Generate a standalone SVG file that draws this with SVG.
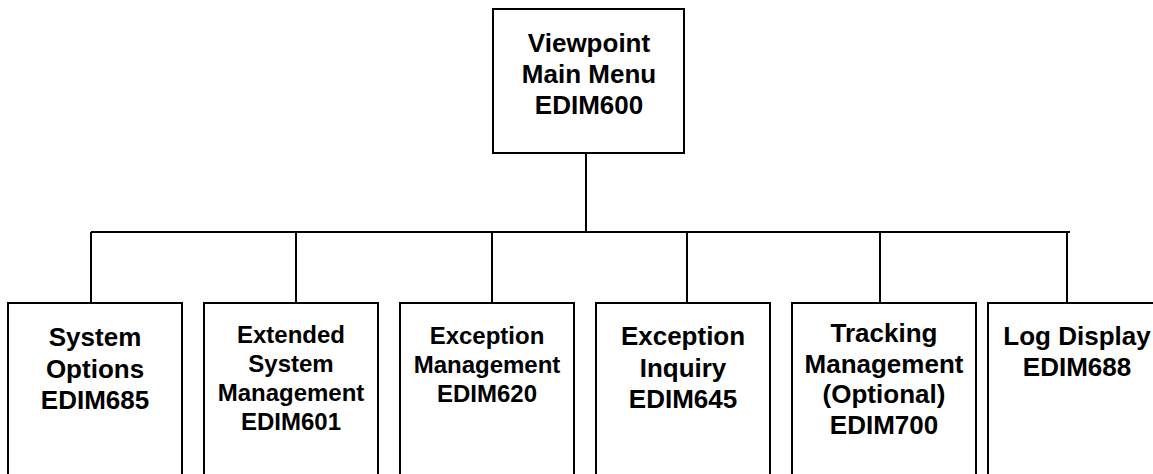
<svg xmlns="http://www.w3.org/2000/svg" width="1153" height="474" viewBox="0 0 1153 474">
<style>
.box{fill:#fff;stroke:#000;stroke-width:2}
.ln{fill:none;stroke:#000;stroke-width:2}
text{font-family:"Liberation Sans",Arial,sans-serif;font-weight:bold;fill:#000;text-anchor:middle}
.l{font-size:26px}
.s{font-size:24px}
</style>
<rect width="1153" height="474" fill="#fff"/>
<g id="connectors">
<path class="ln" d="M586 153V232M91 232H1070M91 232V303M296 232V303M492 232V303M687 232V303M880 232V303M1067 232V303"/>
</g>
<g id="n-main">
<rect class="box" x="493" y="9" width="191" height="144"/>
<text class="l" x="589" y="52">Viewpoint</text>
<text class="l" x="589" y="83">Main Menu</text>
<text class="l" x="589" y="114">EDIM600</text>
</g>
<g id="n-685">
<rect class="box" x="8" y="303" width="174" height="190"/>
<text class="l" x="95" y="346">System</text>
<text class="l" x="95" y="377.5">Options</text>
<text class="l" x="95" y="409">EDIM685</text>
</g>
<g id="n-601">
<rect class="box" x="204" y="303" width="174" height="190"/>
<text class="s" x="291" y="343">Extended</text>
<text class="s" x="291" y="372">System</text>
<text class="s" x="291" y="401">Management</text>
<text class="s" x="291" y="430">EDIM601</text>
</g>
<g id="n-620">
<rect class="box" x="400" y="303" width="174" height="190"/>
<text class="s" x="487" y="344">Exception</text>
<text class="s" x="487" y="373">Management</text>
<text class="s" x="487" y="402">EDIM620</text>
</g>
<g id="n-645">
<rect class="box" x="596" y="303" width="174" height="190"/>
<text class="l" x="683" y="345">Exception</text>
<text class="l" x="683" y="376.5">Inquiry</text>
<text class="l" x="683" y="408">EDIM645</text>
</g>
<g id="n-700">
<rect class="box" x="792" y="303" width="184" height="190"/>
<text class="l" x="884" y="342">Tracking</text>
<text class="l" x="884" y="372.5">Management</text>
<text class="l" x="884" y="403">(Optional)</text>
<text class="l" x="884" y="433.5">EDIM700</text>
</g>
<g id="n-688">
<rect class="box" x="988" y="303" width="180" height="190"/>
<text class="l" x="1077" y="345">Log Display</text>
<text class="l" x="1077" y="376">EDIM688</text>
</g>
</svg>
